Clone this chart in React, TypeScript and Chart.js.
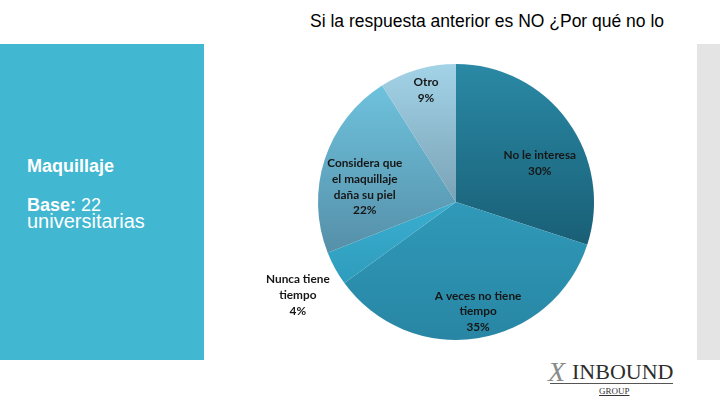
import React, { useEffect, useRef } from "react";
import { Chart, registerables } from "chart.js";

Chart.register(...registerables);

const categories = [
  ["No le interesa"],
  ["A veces no tiene", "tiempo"],
  ["Nunca tiene", "tiempo"],
  ["Considera que", "el maquillaje", "daña su piel"],
  ["Otro"],
];
const values = [30, 35, 4, 22, 9];
const titleText = "Si la respuesta anterior es NO ¿Por qué no lo";

// styling (not data)
const sliceColors = [
  ["#2A89A5", "#195F76"],
  ["#3099B9", "#2886A4"],
  ["#3AAED0", "#2F9CBC"],
  ["#6EC2DD", "#568FA8"],
  ["#A3D3E7", "#7AA2B6"],
];
const labelRadial = [0.67, 0.81, 1.33, 0.67, 0.84];
const labelAngleShift = [11, -2.4, -1.7, -8.6, 1.2];

function sectorBox(cx: number, cy: number, r: number, a0: number, a1: number) {
  const pts: number[][] = [[cx, cy], [cx + r * Math.cos(a0), cy + r * Math.sin(a0)], [cx + r * Math.cos(a1), cy + r * Math.sin(a1)]];
  for (let k = -4; k <= 8; k++) {
    const a = (k * Math.PI) / 2;
    if (a > a0 && a < a1) pts.push([cx + r * Math.cos(a), cy + r * Math.sin(a)]);
  }
  const ys = pts.map((p) => p[1]);
  return { top: Math.min(...ys), bottom: Math.max(...ys) };
}

const labelPlugin = {
  id: "pieLabels",
  afterDatasetsDraw(chart: any) {
    const meta = chart.getDatasetMeta(0);
    const ctx = chart.ctx;
    const total = values.reduce((a, b) => a + b, 0);
    ctx.save();
    ctx.font = "bold 11.8px Lato";
    ctx.fillStyle = "#161616";
    ctx.textAlign = "center";
    ctx.textBaseline = "middle";
    meta.data.forEach((arc: any, i: number) => {
      const p = arc.getProps(["x", "y", "startAngle", "endAngle", "outerRadius"], true);
      const mid = (p.startAngle + p.endAngle) / 2 + (labelAngleShift[i] * Math.PI) / 180;
      const d = p.outerRadius * labelRadial[i];
      const cx = p.x + d * Math.cos(mid);
      const cy = p.y + d * Math.sin(mid);
      const lines = [...categories[i], Math.round((values[i] / total) * 100) + "%"];
      const lh = 15.7;
      const y0 = cy - ((lines.length - 1) * lh) / 2;
      lines.forEach((t, j) => ctx.fillText(t, cx, y0 + j * lh));
    });
    ctx.restore();
  },
};

export default function App() {
  const ref = useRef<HTMLCanvasElement>(null);
  useEffect(() => {
    const total = values.reduce((a, b) => a + b, 0);
    const chart = new Chart(ref.current!, {
      type: "pie",
      data: {
        labels: categories.map((c) => c.join(" ")),
        datasets: [
          {
            data: values,
            borderWidth: 0,
            backgroundColor: (c: any) => {
              const chart = c.chart;
              const area = chart.chartArea;
              const i = c.dataIndex;
              if (!area) return sliceColors[i][0];
              const cx = (area.left + area.right) / 2;
              const cy = (area.top + area.bottom) / 2;
              const r = Math.min(area.width, area.height) / 2;
              const before = values.slice(0, i).reduce((a, b) => a + b, 0);
              const a0 = -Math.PI / 2 + (before / total) * 2 * Math.PI;
              const a1 = a0 + (values[i] / total) * 2 * Math.PI;
              const b = sectorBox(cx, cy, r, a0, a1);
              const g = chart.ctx.createLinearGradient(0, b.top, 0, b.bottom);
              g.addColorStop(0, sliceColors[i][0]);
              g.addColorStop(1, sliceColors[i][1]);
              return g;
            },
          },
        ],
      },
      options: {
        animation: false,
        responsive: false,
        maintainAspectRatio: false,
        layout: { padding: { left: 318, right: 126, top: 64, bottom: 65 } },
        plugins: { legend: { display: false }, tooltip: { enabled: false } },
      },
      plugins: [labelPlugin],
    });
    return () => chart.destroy();
  }, []);

  const sans = "'Liberation Sans', Arial, sans-serif";
  return (
    <div style={{ position: "fixed", left: 0, top: 0, width: 720, height: 405, background: "#fff", overflow: "hidden" }}>
      <div style={{ position: "absolute", left: 310, top: 11, fontFamily: sans, fontSize: 17.5, lineHeight: "20px", color: "#000", whiteSpace: "nowrap" }}>
        {titleText}
      </div>
      <div style={{ position: "absolute", left: 0, top: 44, width: 204, height: 316, background: "#41B7D1" }} />
      <div style={{ position: "absolute", left: 697, top: 44, width: 23, height: 316, background: "#E4E4E4" }} />
      <div style={{ position: "absolute", left: 27, top: 157, fontFamily: sans, fontWeight: "bold", fontSize: 18, lineHeight: "18px", color: "#fff", whiteSpace: "nowrap" }}>
        Maquillaje
      </div>
      <div style={{ position: "absolute", left: 27, top: 196, fontFamily: sans, fontSize: 18, lineHeight: "18px", color: "#fff", whiteSpace: "nowrap" }}>
        <b>Base:</b> 22
      </div>
      <div style={{ position: "absolute", left: 27, top: 211, fontFamily: sans, fontSize: 20, lineHeight: "20px", color: "#fff", whiteSpace: "nowrap" }}>
        universitarias
      </div>
      <div style={{ position: "absolute", left: 548, top: 358, fontFamily: "'Liberation Serif', serif", fontStyle: "italic", fontSize: 28, lineHeight: "28px", color: "#8a8a8a", whiteSpace: "nowrap" }}>
        X
      </div>
      <div style={{ position: "absolute", left: 572, top: 361, fontFamily: "'Liberation Serif', serif", fontSize: 22, lineHeight: "22px", color: "#2d2d2d", whiteSpace: "nowrap" }}>
        INBOUND
      </div>
      <div style={{ position: "absolute", left: 550, top: 383, width: 123, height: 1, background: "#555" }} />
      <div style={{ position: "absolute", left: 599, top: 386, fontFamily: "'Liberation Serif', serif", fontSize: 9, lineHeight: "10px", color: "#333", textDecoration: "underline", whiteSpace: "nowrap" }}>
        GROUP
      </div>
      <canvas ref={ref} width={720} height={405} style={{ position: "absolute", left: 0, top: 0, width: 720, height: 405 }} />
    </div>
  );
}
